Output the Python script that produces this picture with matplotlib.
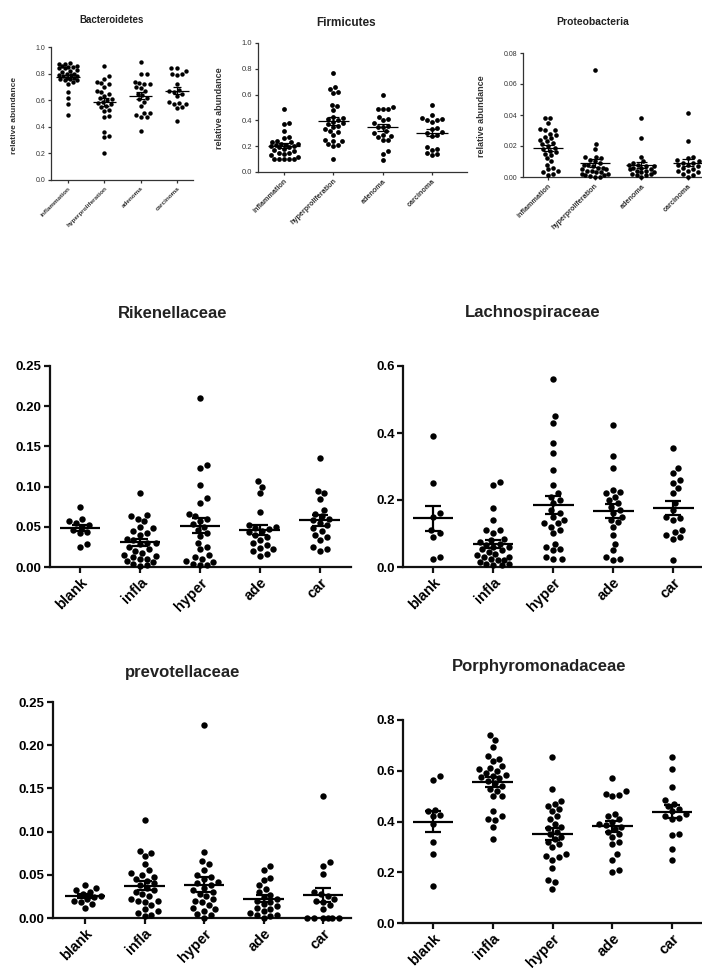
import numpy as np
import matplotlib
matplotlib.use('Agg')
import matplotlib.pyplot as plt

plt.rcParams['font.family'] = ['Liberation Sans', 'DejaVu Sans']

# ---- data ----
phylum_groups = ['inflammation', 'hyperproliferation', 'adenoma', 'carcinoma']
family_groups = ['blank', 'infla', 'hyper', 'ade', 'car']

bacteroidetes = [
    [0.88, 0.87, 0.87, 0.86, 0.86, 0.85, 0.85, 0.84, 0.84, 0.83, 0.82, 0.81, 0.80, 0.80, 0.79,
     0.79, 0.78, 0.78, 0.77, 0.77, 0.76, 0.76, 0.75, 0.75, 0.74, 0.72, 0.66, 0.62, 0.57, 0.49],
    [0.86, 0.78, 0.76, 0.74, 0.73, 0.72, 0.70, 0.67, 0.66, 0.65, 0.63, 0.62, 0.61, 0.60, 0.59,
     0.58, 0.57, 0.56, 0.55, 0.53, 0.52, 0.48, 0.47, 0.36, 0.33, 0.32, 0.20],
    [0.89, 0.80, 0.80, 0.74, 0.73, 0.72, 0.72, 0.70, 0.69, 0.67, 0.65, 0.64, 0.62, 0.61, 0.59,
     0.56, 0.50, 0.50, 0.49, 0.47, 0.47, 0.37],
    [0.84, 0.84, 0.82, 0.80, 0.80, 0.79, 0.72, 0.68, 0.67, 0.66, 0.65, 0.63, 0.59, 0.58, 0.57,
     0.57, 0.55, 0.54, 0.44],
]
firmicutes = [
    [0.49, 0.38, 0.37, 0.32, 0.27, 0.26, 0.24, 0.23, 0.23, 0.22, 0.22, 0.21, 0.21, 0.20, 0.20,
     0.19, 0.19, 0.18, 0.17, 0.16, 0.15, 0.15, 0.14, 0.13, 0.12, 0.10, 0.10, 0.10, 0.10, 0.10],
    [0.77, 0.66, 0.64, 0.62, 0.61, 0.52, 0.51, 0.48, 0.43, 0.42, 0.41, 0.40, 0.39, 0.38, 0.37,
     0.36, 0.35, 0.33, 0.32, 0.31, 0.29, 0.25, 0.24, 0.24, 0.22, 0.21, 0.20, 0.10],
    [0.60, 0.50, 0.49, 0.49, 0.49, 0.43, 0.41, 0.40, 0.38, 0.36, 0.35, 0.35, 0.32, 0.30, 0.29,
     0.28, 0.27, 0.25, 0.25, 0.16, 0.14, 0.09],
    [0.52, 0.44, 0.42, 0.41, 0.40, 0.40, 0.39, 0.34, 0.33, 0.31, 0.30, 0.29, 0.28, 0.19, 0.18,
     0.17, 0.15, 0.14, 0.13],
]
proteobacteria = [
    [0.038, 0.038, 0.035, 0.031, 0.030, 0.030, 0.028, 0.027, 0.026, 0.025, 0.024, 0.023, 0.022,
     0.021, 0.020, 0.019, 0.018, 0.017, 0.016, 0.015, 0.014, 0.012, 0.010, 0.008, 0.006, 0.005,
     0.004, 0.003, 0.002, 0.001],
    [0.069, 0.021, 0.018, 0.013, 0.013, 0.012, 0.011, 0.010, 0.009, 0.008, 0.008, 0.007, 0.006,
     0.006, 0.005, 0.005, 0.004, 0.004, 0.003, 0.003, 0.002, 0.002, 0.001, 0.001, 0.0005, 0.0, 0.0],
    [0.038, 0.025, 0.013, 0.010, 0.009, 0.008, 0.008, 0.007, 0.007, 0.006, 0.006, 0.005, 0.005,
     0.004, 0.004, 0.003, 0.003, 0.002, 0.002, 0.001, 0.001, 0.0],
    [0.041, 0.023, 0.013, 0.012, 0.011, 0.010, 0.009, 0.009, 0.008, 0.008, 0.007, 0.006, 0.005,
     0.004, 0.004, 0.003, 0.002, 0.001, 0.0],
]
rikenellaceae = [
    [0.075, 0.060, 0.057, 0.055, 0.052, 0.050, 0.046, 0.043, 0.042, 0.028, 0.025],
    [0.092, 0.065, 0.063, 0.060, 0.057, 0.050, 0.048, 0.045, 0.042, 0.040, 0.035, 0.033, 0.030,
     0.030, 0.028, 0.025, 0.022, 0.020, 0.018, 0.015, 0.014, 0.012, 0.010, 0.010, 0.008, 0.006,
     0.004, 0.002, 0.001],
    [0.210, 0.127, 0.123, 0.102, 0.086, 0.080, 0.066, 0.064, 0.060, 0.057, 0.053, 0.050, 0.046,
     0.042, 0.038, 0.030, 0.025, 0.022, 0.015, 0.012, 0.010, 0.008, 0.006, 0.004, 0.003, 0.002],
    [0.107, 0.100, 0.092, 0.068, 0.052, 0.050, 0.049, 0.047, 0.045, 0.043, 0.040, 0.037, 0.033,
     0.030, 0.027, 0.024, 0.022, 0.020, 0.016, 0.014],
    [0.136, 0.095, 0.092, 0.085, 0.071, 0.066, 0.063, 0.060, 0.058, 0.055, 0.052, 0.048, 0.045,
     0.040, 0.037, 0.033, 0.025, 0.022, 0.020],
]
lachnospiraceae = [
    [0.39, 0.25, 0.16, 0.15, 0.11, 0.10, 0.09, 0.03, 0.025],
    [0.255, 0.245, 0.175, 0.14, 0.11, 0.11, 0.10, 0.085, 0.08, 0.075, 0.07, 0.065, 0.06, 0.06,
     0.055, 0.05, 0.045, 0.04, 0.035, 0.03, 0.03, 0.025, 0.02, 0.02, 0.015, 0.01, 0.01, 0.005, 0.005],
    [0.56, 0.45, 0.43, 0.37, 0.34, 0.29, 0.245, 0.22, 0.21, 0.20, 0.19, 0.17, 0.16, 0.15, 0.14,
     0.13, 0.13, 0.12, 0.11, 0.10, 0.07, 0.06, 0.055, 0.05, 0.03, 0.025, 0.025],
    [0.425, 0.33, 0.295, 0.23, 0.225, 0.22, 0.21, 0.20, 0.19, 0.18, 0.17, 0.16, 0.15, 0.14,
     0.135, 0.12, 0.095, 0.07, 0.05, 0.03, 0.025, 0.02],
    [0.355, 0.295, 0.28, 0.26, 0.25, 0.235, 0.22, 0.19, 0.17, 0.15, 0.145, 0.14, 0.11, 0.105,
     0.095, 0.09, 0.085, 0.02],
]
prevotellaceae = [
    [0.038, 0.035, 0.032, 0.030, 0.028, 0.026, 0.024, 0.022, 0.020, 0.019, 0.016, 0.012],
    [0.113, 0.078, 0.075, 0.072, 0.062, 0.055, 0.052, 0.050, 0.048, 0.045, 0.043, 0.040, 0.038,
     0.035, 0.032, 0.030, 0.028, 0.025, 0.022, 0.020, 0.020, 0.018, 0.015, 0.010, 0.008, 0.006,
     0.004, 0.002],
    [0.223, 0.076, 0.066, 0.062, 0.055, 0.050, 0.048, 0.045, 0.042, 0.040, 0.038, 0.035, 0.032,
     0.030, 0.028, 0.025, 0.022, 0.020, 0.018, 0.015, 0.012, 0.010, 0.008, 0.005, 0.003, 0.0],
    [0.060, 0.056, 0.046, 0.044, 0.038, 0.034, 0.030, 0.027, 0.024, 0.022, 0.020, 0.018, 0.016,
     0.014, 0.012, 0.010, 0.008, 0.006, 0.004, 0.003, 0.002, 0.0],
    [0.141, 0.065, 0.060, 0.051, 0.030, 0.028, 0.025, 0.022, 0.020, 0.018, 0.015, 0.010,
     0.0, 0.0, 0.0, 0.0, 0.0, 0.0],
]
porphyromonadaceae = [
    [0.58, 0.565, 0.445, 0.44, 0.425, 0.42, 0.39, 0.32, 0.27, 0.145],
    [0.74, 0.72, 0.695, 0.66, 0.645, 0.64, 0.62, 0.61, 0.605, 0.60, 0.59, 0.585, 0.58, 0.575,
     0.57, 0.56, 0.55, 0.54, 0.53, 0.52, 0.50, 0.50, 0.44, 0.42, 0.41, 0.405, 0.38, 0.33],
    [0.655, 0.53, 0.48, 0.47, 0.46, 0.45, 0.44, 0.42, 0.41, 0.39, 0.38, 0.375, 0.36, 0.35, 0.34,
     0.33, 0.32, 0.31, 0.30, 0.27, 0.265, 0.26, 0.25, 0.215, 0.17, 0.16, 0.135],
    [0.57, 0.52, 0.51, 0.505, 0.50, 0.43, 0.42, 0.41, 0.40, 0.39, 0.385, 0.38, 0.37, 0.36, 0.35,
     0.34, 0.32, 0.31, 0.27, 0.25, 0.21, 0.20],
    [0.655, 0.605, 0.535, 0.485, 0.47, 0.46, 0.45, 0.44, 0.43, 0.42, 0.415, 0.41, 0.35, 0.345,
     0.29, 0.25],
]

W, H = 702, 971
fig = plt.figure(figsize=(W / 100, H / 100), dpi=100)


def rect(x0, y0, x1, y1):
    # pixel box (y measured from top) -> figure fraction
    return [x0 / W, 1 - y1 / H, (x1 - x0) / W, (y1 - y0) / H]


def swarm(ax, vals, pos, d, cap, gap=1.05):
    # beeswarm in pixel space, offsets kept within +-cap pixels
    vals = np.asarray(vals, float)
    pts = ax.transData.transform(np.column_stack([np.full(len(vals), pos), vals]))
    xc, ypix = pts[0, 0], pts[:, 1]
    step = d * 0.35
    cands = [0.0]
    n = 1
    while n * step <= cap:
        cands += [n * step, -n * step]
        n += 1
    placed = []
    xs = np.zeros(len(vals))
    for i in np.argsort(vals):
        y = ypix[i]
        best, bestd = 0.0, -1
        for dx in cands:
            md = min([np.hypot(dx - px, y - py) for px, py in placed] or [1e9])
            if md >= gap * d:
                best = dx
                break
            if md > bestd:
                best, bestd = dx, md
        placed.append((best, y))
        xs[i] = xc + best
    inv = ax.transData.inverted()
    return inv.transform(np.column_stack([xs, ypix]))[:, 0]


def panel(box, title, groups, data, xlim, ytop, ystep, fmt, small, tpos, ylab=None):
    ax = fig.add_axes(rect(*box))
    ax.set_xlim(*xlim)
    ax.set_ylim(0, ytop)
    lw = 0.9 if small else 1.6
    col = '#333333' if small else '#111111'
    for s in ['top', 'right']:
        ax.spines[s].set_visible(False)
    for s in ['left', 'bottom']:
        ax.spines[s].set_linewidth(lw)
        ax.spines[s].set_color(col)
    ax.set_yticks(np.arange(0, ytop + ystep / 2, ystep))
    ax.set_yticklabels([fmt.format(v) for v in np.arange(0, ytop + ystep / 2, ystep)])
    ax.set_xticks(range(len(groups)))
    if small:
        ax.tick_params(axis='both', length=2.5, width=lw, color=col, pad=1.5,
                       labelsize=small['tick'], labelcolor='#333333')
        ax.set_xticklabels(groups, rotation=45, ha='right', rotation_mode='anchor',
                           fontsize=small['xt'], fontweight='bold', color='#333333')
        d, mw, cw, mlw = small['d'], 0.32, 0.12, 0.9
    else:
        ax.tick_params(axis='both', length=4, width=lw, color=col, pad=2, labelsize=9.5)
        for t in ax.get_yticklabels():
            t.set_fontweight('bold')
        ax.set_xticklabels(groups, rotation=45, ha='right', rotation_mode='anchor',
                           fontsize=10.5, fontweight='bold')
        d, mw, cw, mlw = 6.4, 0.34, 0.13, 1.6
    ms = (d * 0.72) ** 2
    unit = ax.transData.transform([(1, 0)])[0, 0] - ax.transData.transform([(0, 0)])[0, 0]
    for i, vals in enumerate(data):
        xs = swarm(ax, vals, i, d, 0.29 * unit)
        ax.scatter(xs, vals, s=ms, color='black', lw=0, zorder=3, clip_on=False)
        m = np.mean(vals)
        se = np.std(vals, ddof=1) / np.sqrt(len(vals))
        ax.hlines(m, i - mw, i + mw, color='black', lw=mlw, zorder=4)
        ax.hlines([m - se, m + se], i - cw, i + cw, color='black', lw=mlw, zorder=4)
        ax.vlines(i, m - se, m + se, color='black', lw=mlw, zorder=4)
    fs = small['title'] if small else 12
    fig.text(tpos[0] / W, 1 - tpos[1] / H, title, ha='center', va='center',
             fontsize=fs, fontweight='bold', color='#222222')
    if ylab:
        fig.text(ylab[0] / W, 1 - ylab[1] / H, 'relative abundance', rotation=90,
                 ha='center', va='center', fontsize=ylab[2], fontweight='bold', color='#333333')
    return ax


panel((51, 47, 193, 180), 'Bacteroidetes', phylum_groups, bacteroidetes,
      (-0.47, 3.44), 1.0, 0.2, '{:.1f}',
      {'tick': 5, 'xt': 4.6, 'title': 7, 'd': 4.4}, (112, 20), ylab=(15, 115, 6))
panel((258, 43, 467, 172), 'Firmicutes', phylum_groups, firmicutes,
      (-0.53, 3.71), 1.0, 0.2, '{:.1f}',
      {'tick': 5.5, 'xt': 5.2, 'title': 8.5, 'd': 4.8}, (346, 23), ylab=(219, 108, 6.5))
panel((523, 53, 702, 177), 'Proteobacteria', phylum_groups, proteobacteria,
      (-0.54, 3.3), 0.08, 0.02, '{:.2f}',
      {'tick': 5, 'xt': 5.2, 'title': 7.5, 'd': 4.6}, (593, 22), ylab=(481, 116, 6.5))

panel((50, 366, 351, 567), 'Rikenellaceae', family_groups, rikenellaceae,
      (-0.5, 4.52), 0.25, 0.05, '{:.2f}', None, (173, 313))
panel((403, 366, 702, 567), 'Lachnospiraceae', family_groups, lachnospiraceae,
      (-0.5, 4.48), 0.6, 0.2, '{:.1f}', None, (533, 313))
panel((53, 702, 351, 918), 'prevotellaceae', family_groups, prevotellaceae,
      (-0.54, 4.47), 0.25, 0.05, '{:.2f}', None, (183, 672))
panel((403, 720, 702, 923), 'Porphyromonadaceae', family_groups, porphyromonadaceae,
      (-0.5, 4.5), 0.8, 0.2, '{:.1f}', None, (539, 667))

fig.savefig('out.png', dpi=100)
